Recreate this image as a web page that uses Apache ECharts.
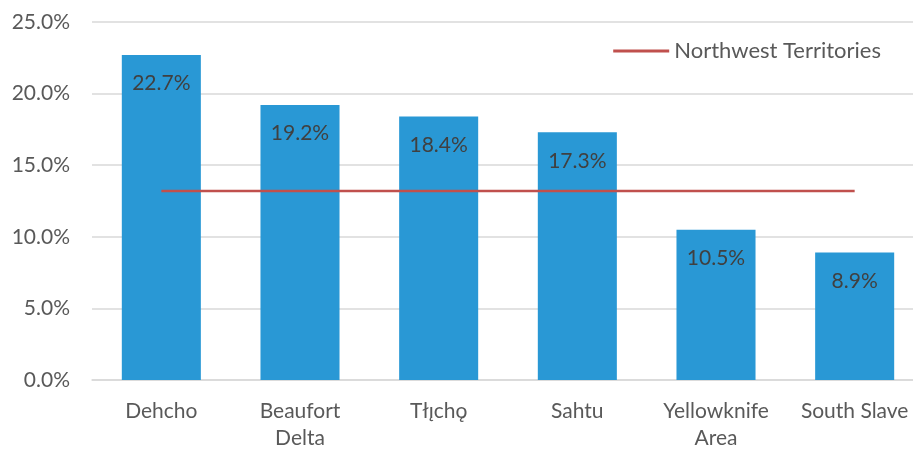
<!DOCTYPE html>
<html>
<head>
<meta charset="utf-8">
<script src="https://cdn.jsdelivr.net/npm/echarts@6/dist/echarts.min.js"></script>
<style>
  html, body { margin: 0; padding: 0; background: #fff; }
  #chart { width: 913px; height: 450px; }
</style>
</head>
<body>
<div id="chart"></div>
<script>
const regions = ['Dehcho', 'Beaufort\nDelta', 'Tłı̨chǫ', 'Sahtu', 'Yellowknife\nArea', 'South Slave'];
const regionRates = [22.7, 19.2, 18.4, 17.3, 10.5, 8.9];
const nwtRate = [13.2, 13.2, 13.2, 13.2, 13.2, 13.2];

const font = 'Lato, "Open Sans", sans-serif';
const chart = echarts.init(document.getElementById('chart'), null, { renderer: 'canvas' });
chart.setOption({
  animation: false,
  textStyle: { fontFamily: font },
  grid: { left: 92, right: -11, top: 22, bottom: 70, containLabel: false, outerBoundsMode: 'none' },
  legend: {
    right: 27, top: 35,
    itemWidth: 56, itemHeight: 3, itemGap: 5,
    data: [{ name: 'Northwest Territories', icon: 'rect' }],
    textStyle: { fontSize: 22, color: '#595959', fontFamily: font }
  },
  xAxis: {
    type: 'category',
    data: regions,
    axisTick: { show: false },
    axisLine: { lineStyle: { color: '#d9d9d9', width: 1.5 } },
    axisLabel: { interval: 0, color: '#595959', fontSize: 21, margin: 18, lineHeight: 27, fontFamily: font }
  },
  yAxis: {
    type: 'value',
    min: 0, max: 25, interval: 5,
    axisLabel: {
      color: '#595959', fontSize: 21, margin: 22, fontFamily: font,
      formatter: v => v.toFixed(1) + '%'
    },
    splitLine: { lineStyle: { color: '#d9d9d9', width: 1.5 } }
  },
  series: [
    {
      name: 'Region',
      type: 'bar',
      data: regionRates,
      barWidth: '57%',
      itemStyle: { color: '#2998d5' },
      label: {
        show: true, position: 'insideTop', distance: 18,
        color: '#404040', fontSize: 21, fontFamily: font,
        formatter: p => p.value.toFixed(1) + '%'
      }
    },
    {
      name: 'Northwest Territories',
      type: 'line',
      data: nwtRate,
      symbol: 'none',
      lineStyle: { color: '#c0504d', width: 2.5 },
      itemStyle: { color: '#c0504d' }
    }
  ]
});
</script>
</body>
</html>
